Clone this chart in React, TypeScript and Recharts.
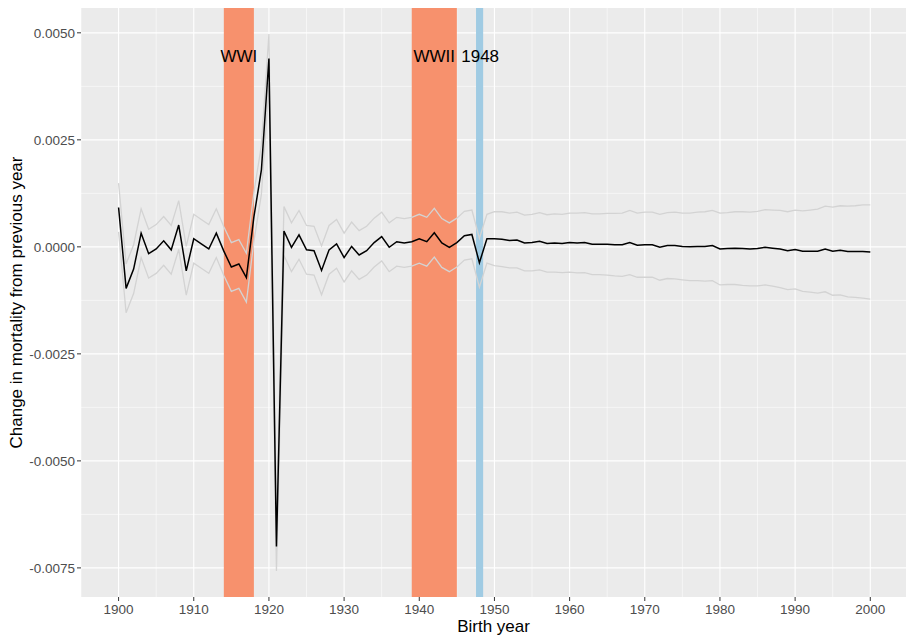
import { LineChart, Line, XAxis, YAxis, CartesianGrid, ReferenceArea, ReferenceDot } from 'recharts'

// birth cohorts 1900..2000
const years = Array.from({ length: 101 }, (_, i) => 1900 + i)

// change in mortality from previous year
const change = [
  0.00092, -0.00097, -0.00052, 0.00032, -0.00016, -0.00005, 0.00014, -0.00007, 0.00051, -0.00056,
  0.00019, 0.00007, -0.00005, 0.00032, -0.0001, -0.00047, -0.0004, -0.00072, 0.0007, 0.0018,
  0.0044, -0.007, 0.00037, -0.00001, 0.00028, -0.00007, -0.00009, -0.00055, -0.00007, 0.00007,
  -0.00025, 0.00001, -0.00019, -0.00009, 0.0001, 0.00024, -0.00001, 0.00012, 0.00009, 0.00012,
  0.00019, 0.00012, 0.00033, 0.00009, -0.00001, 0.0001, 0.00026, 0.00029, -0.00037, 0.00019,
  0.00019, 0.00018, 0.00015, 0.00016, 0.00009, 0.0001, 0.00013, 0.00008, 0.00009, 0.00008,
  0.0001, 0.00009, 0.0001, 0.00006, 0.00006, 0.00006, 0.00005, 0.00005, 0.0001, 0.00004,
  0.00005, 0.00005, -0.00001, 0.00003, 0.00003, 0.00001, 0.0, 0.00001, 0.00001, 0.00003,
  -0.00005, -0.00004, -0.00003, -0.00004, -0.00005, -0.00004, -0.00001, -0.00003, -0.00005, -0.00009,
  -0.00006, -0.0001, -0.0001, -0.0001, -0.00005, -0.0001, -0.00008, -0.00011, -0.00011, -0.00011,
  -0.00012,
]

const upper = [
  0.00149, -0.0004, 0.00005, 0.00089, 0.00041, 0.00052, 0.00071, 0.0005, 0.00108, 0.00001,
  0.00076, 0.00064, 0.00052, 0.00089, 0.00047, 0.0001, 0.00017, -0.00015, 0.00127, 0.00237,
  0.00497, -0.00643, 0.00094, 0.00056, 0.00085, 0.0005, 0.00048, 0.00002, 0.0005, 0.00064,
  0.00032, 0.00058, 0.00038, 0.00048, 0.00067, 0.00081, 0.00056, 0.00069, 0.00066, 0.00069,
  0.00076, 0.00069, 0.0009, 0.00066, 0.00056, 0.00067, 0.00083, 0.00086, 0.0002, 0.00076,
  0.00082, 0.00082, 0.00079, 0.00081, 0.00074, 0.00076, 0.0008, 0.00075, 0.00077, 0.00076,
  0.00079, 0.00079, 0.0008, 0.00077, 0.00077, 0.00078, 0.00078, 0.00079, 0.00085, 0.00079,
  0.00081, 0.00081, 0.00076, 0.0008, 0.00081, 0.00079, 0.00079, 0.00081, 0.00082, 0.00085,
  0.00079, 0.0008, 0.00082, 0.00082, 0.00081, 0.00083, 0.00087, 0.00086, 0.00085, 0.00082,
  0.00086, 0.00084, 0.00086, 0.00088, 0.00095, 0.00093, 0.00096, 0.00095, 0.00096, 0.00098,
  0.00098,
]

const lower = [
  0.00035, -0.00154, -0.00109, -0.00025, -0.00073, -0.00062, -0.00043, -0.00064, -0.00006, -0.00113,
  -0.00038, -0.0005, -0.00062, -0.00025, -0.00067, -0.00104, -0.00097, -0.00129, 0.00013, 0.00123,
  0.00383, -0.00757, -0.0002, -0.00058, -0.00029, -0.00064, -0.00066, -0.00112, -0.00064, -0.0005,
  -0.00082, -0.00056, -0.00076, -0.00066, -0.00047, -0.00033, -0.00058, -0.00045, -0.00048, -0.00045,
  -0.00038, -0.00045, -0.00024, -0.00048, -0.00058, -0.00047, -0.00031, -0.00028, -0.00094, -0.00038,
  -0.00044, -0.00046, -0.00049, -0.00049, -0.00056, -0.00056, -0.00054, -0.00059, -0.00059, -0.0006,
  -0.00059, -0.00061, -0.0006, -0.00065, -0.00065, -0.00066, -0.00068, -0.00069, -0.00065, -0.00071,
  -0.00071, -0.00071, -0.00078, -0.00074, -0.00075, -0.00077, -0.00079, -0.00079, -0.0008, -0.00079,
  -0.00089, -0.00088, -0.00088, -0.0009, -0.00091, -0.00091, -0.00089, -0.00092, -0.00095, -0.001,
  -0.00098, -0.00104, -0.00106, -0.00108, -0.00105, -0.00113, -0.00112, -0.00117, -0.00118, -0.0012,
  -0.00122,
]

const xTicks = [1900, 1910, 1920, 1930, 1940, 1950, 1960, 1970, 1980, 1990, 2000]
const xMinor = [1895, 1905, 1915, 1925, 1935, 1945, 1955, 1965, 1975, 1985, 1995]
const yTicks = [-0.0075, -0.005, -0.0025, 0, 0.0025, 0.005]
const yMinor = [-0.00625, -0.00375, -0.00125, 0.00125, 0.00375]

const wars = [
  { from: 1914, to: 1918 },
  { from: 1939, to: 1945 },
]
const boom = { from: 1947.55, to: 1948.5 }

const notes = [
  { text: 'WWI', year: 1916, value: 0.00446 },
  { text: 'WWII', year: 1942, value: 0.00446 },
  { text: '1948', year: 1948.1, value: 0.00446 },
]

const data = years.map((year, i) => ({
  year,
  change: change[i],
  upper: upper[i],
  lower: lower[i],
}))

const FONT = '"Liberation Sans", Arial, Helvetica, sans-serif'

const YTitle = (props: any) => {
  const vb = props.viewBox || { y: 8, height: 589 }
  const cy = vb.y + vb.height / 2
  return (
    <text
      x={16}
      y={cy}
      transform={`rotate(-90, 16, ${cy})`}
      textAnchor="middle"
      dominantBaseline="central"
      fontSize={17}
      fontFamily={FONT}
      fill="#000"
    >
      Change in mortality from previous year
    </text>
  )
}

export default function App() {
  return (
    <div style={{ position: 'absolute', left: 0, top: 0, fontFamily: FONT }}>
      <LineChart
        width={906}
        height={636}
        data={data}
        margin={{ top: 8, right: 0, bottom: 0, left: 0 }}
      >
        <CartesianGrid
          fill="#EBEBEB"
          stroke="#FFFFFF"
          strokeWidth={0.55}
          horizontalValues={yMinor}
          verticalValues={xMinor}
        />
        <CartesianGrid
          stroke="#FFFFFF"
          strokeWidth={1.1}
          horizontalValues={yTicks}
          verticalValues={xTicks}
        />
        <XAxis
          dataKey="year"
          type="number"
          domain={[1895, 2004.75]}
          ticks={xTicks}
          allowDataOverflow
          height={39}
          axisLine={false}
          tickSize={4}
          tickMargin={3}
          tickLine={{ stroke: '#333333' }}
          tick={{ fontSize: 13.5, fill: '#4D4D4D', fontFamily: FONT }}
          label={{ value: 'Birth year', position: 'insideBottom', offset: 4, fontSize: 17, fill: '#000', fontFamily: FONT }}
        />
        <YAxis
          type="number"
          domain={[-0.00818, 0.00558]}
          ticks={yTicks}
          allowDataOverflow
          width={81}
          axisLine={false}
          tickSize={4}
          tickMargin={2}
          tickLine={{ stroke: '#333333' }}
          tick={{ fontSize: 13.5, fill: '#4D4D4D', fontFamily: FONT }}
          tickFormatter={(v: number) => v.toFixed(4)}
          label={{ content: YTitle }}
        />
        {wars.map((w) => (
          <ReferenceArea
            key={w.from}
            x1={w.from}
            x2={w.to}
            fill="#F7916D"
            fillOpacity={1}
            stroke="none"
            ifOverflow="visible"
          />
        ))}
        <ReferenceArea
          x1={boom.from}
          x2={boom.to}
          fill="#A0CBE3"
          fillOpacity={1}
          stroke="none"
          ifOverflow="visible"
        />
        <Line
          dataKey="upper"
          stroke="#D3D3D3"
          strokeWidth={1.3}
          dot={false}
          activeDot={false}
          isAnimationActive={false}
        />
        <Line
          dataKey="lower"
          stroke="#D3D3D3"
          strokeWidth={1.3}
          dot={false}
          activeDot={false}
          isAnimationActive={false}
        />
        <Line
          dataKey="change"
          stroke="#000000"
          strokeWidth={1.5}
          dot={false}
          activeDot={false}
          isAnimationActive={false}
        />
        {notes.map((n) => (
          <ReferenceDot
            key={n.text}
            x={n.year}
            y={n.value}
            r={0}
            fill="none"
            stroke="none"
            ifOverflow="visible"
            label={{ value: n.text, position: 'center', fontSize: 17, fill: '#000', fontFamily: FONT }}
          />
        ))}
      </LineChart>
    </div>
  )
}
